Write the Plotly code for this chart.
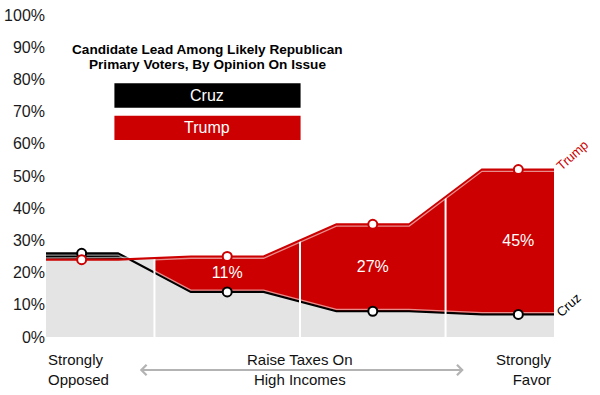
import numpy as np
import plotly.graph_objects as go

# ---- data ----
categories = ["Strongly Opposed", "", "", "Strongly Favor"]
trump = [24, 25, 35, 52]
cruz = [26, 14, 8, 7]
y_ticks = list(range(0, 101, 10))
title_lines = ["Candidate Lead Among Likely Republican", "Primary Voters, By Opinion On Issue"]
axis_left = "Strongly<br>Opposed"
axis_mid = "Raise Taxes On<br>High Incomes"
axis_right = "Strongly<br>Favor"

RED = "#cc0000"
GRAY = "#e4e4e4"
HL = "rgba(255,255,255,0.55)"
FONT = "Liberation Sans, Arial, Helvetica, sans-serif"
HALF = 0.25
n = len(trump)
idx = np.arange(n)


def step_line(vals):
    xs, ys = [], []
    for i, v in enumerate(vals):
        xs += [i - HALF, i + HALF]
        ys += [v, v]
    return np.array(xs, float), np.array(ys, float)


tx, ty = step_line(trump)
cx, cy = step_line(cruz)
x_min, x_max = tx[0], tx[-1]
XR = [x_min + 0.005, x_max - 0.005]
YR = [0, 100]


def xp(d):
    return (d - XR[0]) / (XR[1] - XR[0])


def yp(d):
    return (d - YR[0]) / (YR[1] - YR[0])


def seg(xs, ys, a, b):
    """portion of a polyline between x=a and x=b (inclusive endpoints)"""
    inner = [(x, y) for x, y in zip(xs, ys) if a < x < b]
    pts = [(a, np.interp(a, xs, ys))] + inner + [(b, np.interp(b, xs, ys))]
    return [p[0] for p in pts], [p[1] for p in pts]


# crossing point of the two lines in the first band
grid = np.linspace(x_min, 0.5, 2001)
diff = np.interp(grid, cx, cy) - np.interp(grid, tx, ty)
x_cross = grid[np.argmax(diff <= 0)]

fig = go.Figure()

# gray base area: up to Trump in band 1, up to Cruz afterwards
gx1, gy1 = seg(tx, ty, x_min, 0.5)
gx2, gy2 = seg(cx, cy, 0.5, x_max)
fig.add_trace(go.Scatter(x=gx1 + gx2 + [x_max, x_min], y=gy1 + gy2 + [0, 0],
                         fill="toself", fillcolor=GRAY, mode="none",
                         hoverinfo="skip", showlegend=False))

# black (Cruz lead) area in band 1
bx1, by1 = seg(cx, cy, x_min, x_cross)
bx2, by2 = seg(tx, ty, x_min, x_cross)
fig.add_trace(go.Scatter(x=bx1 + bx2[::-1], y=by1 + by2[::-1],
                         fill="toself", fillcolor="black", mode="none",
                         hoverinfo="skip", showlegend=False))

# red (Trump lead) area from band 2 on
rx1, ry1 = seg(tx, ty, 0.5, x_max)
rx2, ry2 = seg(cx, cy, 0.5, x_max)
fig.add_trace(go.Scatter(x=rx1 + rx2[::-1], y=ry1 + ry2[::-1],
                         fill="toself", fillcolor=RED, mode="none",
                         hoverinfo="skip", showlegend=False))

# Cruz line + highlight
fig.add_trace(go.Scatter(x=cx, y=cy, mode="lines", line=dict(color="black", width=2.2),
                         hoverinfo="skip", showlegend=False))
hx1, hy1 = seg(cx, cy, x_min, x_cross)
hx2, hy2 = seg(cx, cy, 0.5, x_max)
fig.add_trace(go.Scatter(x=hx1 + [None] + hx2,
                         y=[v - 0.55 for v in hy1] + [None] + [v + 0.55 for v in hy2],
                         mode="lines", line=dict(color=HL, width=1.3),
                         hoverinfo="skip", showlegend=False))

# white separators between bands
sep_x, sep_y = [], []
for b in idx[:-1] + 0.5:
    sep_x += [b, b, None]
    sep_y += [0, float(np.interp(b, tx, ty)) - 0.3, None]
fig.add_trace(go.Scatter(x=sep_x, y=sep_y, mode="lines", line=dict(color="white", width=2),
                         hoverinfo="skip", showlegend=False))

# Trump line + highlight
fig.add_trace(go.Scatter(x=tx, y=ty, mode="lines", line=dict(color=RED, width=2.2),
                         hoverinfo="skip", showlegend=False))
kx1, ky1 = seg(tx, ty, x_min, x_cross)
kx2, ky2 = seg(tx, ty, 0.5, x_max)
fig.add_trace(go.Scatter(x=kx1 + [None] + kx2,
                         y=[v + 0.55 for v in ky1] + [None] + [v - 0.55 for v in ky2],
                         mode="lines", line=dict(color=HL, width=1.3),
                         hoverinfo="skip", showlegend=False))

# markers
fig.add_trace(go.Scatter(x=idx, y=cruz, mode="markers",
                         marker=dict(size=9, color="white", line=dict(color="black", width=2)),
                         hoverinfo="skip", showlegend=False))
fig.add_trace(go.Scatter(x=idx, y=trump, mode="markers",
                         marker=dict(size=9, color="white", line=dict(color=RED, width=2)),
                         hoverinfo="skip", showlegend=False))

# lead labels
lead_i = [i for i in idx if trump[i] > cruz[i]]
fig.add_trace(go.Scatter(x=lead_i, y=[(trump[i] + cruz[i]) / 2 for i in lead_i],
                         text=[f"{trump[i] - cruz[i]}%" for i in lead_i],
                         mode="text", textfont=dict(color="white", size=16, family=FONT),
                         hoverinfo="skip", showlegend=False))

annotations = []
# end labels
annotations.append(dict(x=1, y=yp(trump[-1]), xref="paper", yref="paper", text="Trump",
                        showarrow=False, textangle=-42,
                        font=dict(color=RED, size=13, family=FONT),
                        xanchor="center", yanchor="middle", xshift=18, yshift=14))
annotations.append(dict(x=1, y=yp(cruz[-1]), xref="paper", yref="paper", text="Cruz",
                        showarrow=False, textangle=-42,
                        font=dict(color="black", size=13, family=FONT),
                        xanchor="center", yanchor="middle", xshift=14, yshift=9))

# title
mid_x = 0.864
annotations.append(dict(x=xp(mid_x), y=yp(89.4), xref="paper", yref="paper",
                        text=f"<b>{title_lines[0]}</b>", showarrow=False,
                        xanchor="center", yanchor="middle",
                        font=dict(size=13.6, color="black", family=FONT)))
annotations.append(dict(x=xp(mid_x), y=yp(84.6), xref="paper", yref="paper",
                        text=f"<b>{title_lines[1]}</b>", showarrow=False,
                        xanchor="center", yanchor="middle",
                        font=dict(size=13.6, color="black", family=FONT)))

# legend boxes
shapes = [
    dict(type="rect", xref="x", yref="y", x0=0.225, x1=1.504, y0=71.2, y1=78.8,
         fillcolor="black", line=dict(width=0), layer="above"),
    dict(type="rect", xref="x", yref="y", x0=0.225, x1=1.504, y0=61.2, y1=68.7,
         fillcolor=RED, line=dict(width=0), layer="above"),
]
annotations.append(dict(x=xp(mid_x), y=yp(75.0), xref="paper", yref="paper", text="Cruz",
                        showarrow=False, xanchor="center", yanchor="middle",
                        font=dict(size=16, color="white", family=FONT)))
annotations.append(dict(x=xp(mid_x), y=yp(64.95), xref="paper", yref="paper", text="Trump",
                        showarrow=False, xanchor="center", yanchor="middle",
                        font=dict(size=16, color="white", family=FONT)))

# bottom axis texts
annotations.append(dict(x=0, y=yp(-10), xref="paper", yref="paper", text=axis_left,
                        showarrow=False, xanchor="left", align="left", yanchor="middle",
                        font=dict(size=15, color="#111", family=FONT)))
annotations.append(dict(x=xp((n - 1) / 2), y=yp(-10), xref="paper", yref="paper", text=axis_mid,
                        showarrow=False, xanchor="center", align="center", yanchor="middle",
                        font=dict(size=15, color="#111", family=FONT)))
annotations.append(dict(x=1, y=yp(-10), xref="paper", yref="paper", text=axis_right,
                        showarrow=False, xanchor="right", align="right", yanchor="middle",
                        font=dict(size=15, color="#111", family=FONT)))
# double arrow
annotations.append(dict(x=xp(2.625), y=yp(-10.25), ax=-(2.625 - 0.382) * 145.1, ay=0,
                        xref="paper", yref="paper", text="", showarrow=True, arrowhead=4,
                        arrowside="end+start", arrowwidth=2, arrowsize=1, arrowcolor="#b3b3b3",
                        standoff=0, startstandoff=0))

fig.update_layout(
    width=600, height=395,
    margin=dict(l=46, r=46, t=15, b=58, autoexpand=False),
    plot_bgcolor="white", paper_bgcolor="white",
    font=dict(family=FONT),
    shapes=shapes, annotations=annotations,
    xaxis=dict(range=XR, visible=False, fixedrange=True),
    yaxis=dict(range=YR, tickvals=y_ticks, ticktext=[f"{v}%" for v in y_ticks],
               showgrid=False, zeroline=False, showline=False, ticks="", automargin=False,
               tickfont=dict(size=16, color="#1a1a1a", family=FONT), fixedrange=True),
)

fig.write_html("out.html", config={"displayModeBar": False},
               post_script="document.body.style.margin='0';document.body.style.overflow='hidden';")
